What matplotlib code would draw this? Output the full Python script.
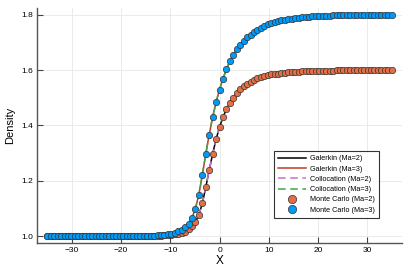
import matplotlib

matplotlib.use("Agg")
import matplotlib.pyplot as plt
import numpy as np

plt.rcParams["font.family"] = ["Liberation Sans", "DejaVu Sans"]

# sample positions of the Monte Carlo bins
x = np.linspace(-35, 35, 101)

density_ma2 = np.array([
    1.000, 1.000, 1.000, 1.000, 1.000, 1.000, 1.000, 1.000, 1.000, 1.000,
    1.000, 1.000, 1.000, 1.000, 1.000, 1.000, 1.000, 1.000, 1.000, 1.000,
    1.000, 1.000, 1.000, 1.000, 1.000, 1.000, 1.000, 1.000, 1.000, 1.001,
    1.001, 1.001, 1.002, 1.002, 1.003, 1.004, 1.005, 1.006, 1.008, 1.011,
    1.016, 1.024, 1.035, 1.051, 1.076, 1.118, 1.176, 1.238, 1.297, 1.350,
    1.394, 1.430, 1.459, 1.482, 1.501, 1.517, 1.531, 1.542, 1.551, 1.559,
    1.566, 1.572, 1.576, 1.580, 1.582, 1.585, 1.587, 1.588, 1.590, 1.591,
    1.592, 1.593, 1.594, 1.595, 1.596, 1.596, 1.597, 1.597, 1.598, 1.598,
    1.598, 1.598, 1.598, 1.598, 1.599, 1.599, 1.599, 1.599, 1.599, 1.599,
    1.599, 1.600, 1.600, 1.600, 1.600, 1.600, 1.600, 1.600, 1.600, 1.600,
    1.600,
])

density_ma3 = np.array([
    1.000, 1.000, 1.000, 1.000, 1.000, 1.000, 1.000, 1.000, 1.000, 1.000,
    1.000, 1.000, 1.000, 1.000, 1.000, 1.000, 1.000, 1.000, 1.000, 1.000,
    1.000, 1.000, 1.000, 1.000, 1.000, 1.000, 1.000, 1.001, 1.001, 1.001,
    1.002, 1.002, 1.003, 1.004, 1.005, 1.007, 1.009, 1.012, 1.017, 1.023,
    1.032, 1.045, 1.066, 1.099, 1.150, 1.220, 1.296, 1.367, 1.430, 1.484,
    1.530, 1.569, 1.603, 1.632, 1.656, 1.676, 1.693, 1.707, 1.719, 1.729,
    1.738, 1.746, 1.754, 1.760, 1.766, 1.770, 1.774, 1.778, 1.781, 1.783,
    1.785, 1.787, 1.789, 1.790, 1.792, 1.793, 1.794, 1.795, 1.795, 1.796,
    1.797, 1.797, 1.797, 1.798, 1.798, 1.798, 1.798, 1.799, 1.799, 1.799,
    1.799, 1.799, 1.799, 1.799, 1.800, 1.800, 1.800, 1.800, 1.800, 1.800,
    1.800,
])

x_ticks = [-30, -20, -10, 0, 10, 20, 30]
y_ticks = [1.0, 1.2, 1.4, 1.6, 1.8]

fig = plt.figure(figsize=(4.09, 2.73), dpi=100)
ax = fig.add_axes([0.0905, 0.111, 0.8924, 0.8586])

ax.plot(x, density_ma2, color="black", lw=1.1, label="Galerkin (Ma=2)")
ax.plot(x, density_ma3, color="#c0392b", lw=1.1, label="Galerkin (Ma=3)")
ax.plot(x, density_ma2, color="#c271d2", lw=1.1, ls=(0, (5, 3)),
        label="Collocation (Ma=2)")
ax.plot(x, density_ma3, color="#3da44d", lw=1.1, ls=(0, (5, 3)),
        label="Collocation (Ma=3)")
ax.plot(x, density_ma2, ls="none", marker="o", ms=4.6, mfc="#e26f46",
        mec="#333333", mew=0.5, label="Monte Carlo (Ma=2)")
ax.plot(x, density_ma3, ls="none", marker="o", ms=4.6, mfc="#009af9",
        mec="#333333", mew=0.5, label="Monte Carlo (Ma=3)")

ax.set_xlim(-37.1, 37.1)
ax.set_ylim(0.976, 1.824)
ax.set_xticks(x_ticks)
ax.set_yticks(y_ticks)
ax.set_yticklabels([f"{v:.1f}" for v in y_ticks])
ax.tick_params(direction="in", length=4, width=0.8, color="#444444",
               labelsize=6, pad=3)
ax.grid(True, color="#e8e8e8", lw=0.6)
ax.set_axisbelow(True)
for side in ("top", "right"):
    ax.spines[side].set_visible(False)
for side in ("left", "bottom"):
    ax.spines[side].set_color("#555555")
    ax.spines[side].set_linewidth(1.0)

ax.set_xlabel("X", fontsize=8.5, labelpad=1)
ax.set_ylabel("Density", fontsize=8, labelpad=4)

leg = ax.legend(loc="lower left", bbox_to_anchor=(0.649, 0.105), fontsize=5.2,
                frameon=True, fancybox=False, edgecolor="black",
                handlelength=3.8, borderpad=0.6, labelspacing=0.45,
                handletextpad=0.6, borderaxespad=0, markerscale=1.3)
leg.get_frame().set_linewidth(0.8)

fig.savefig("out.png", dpi=100)
